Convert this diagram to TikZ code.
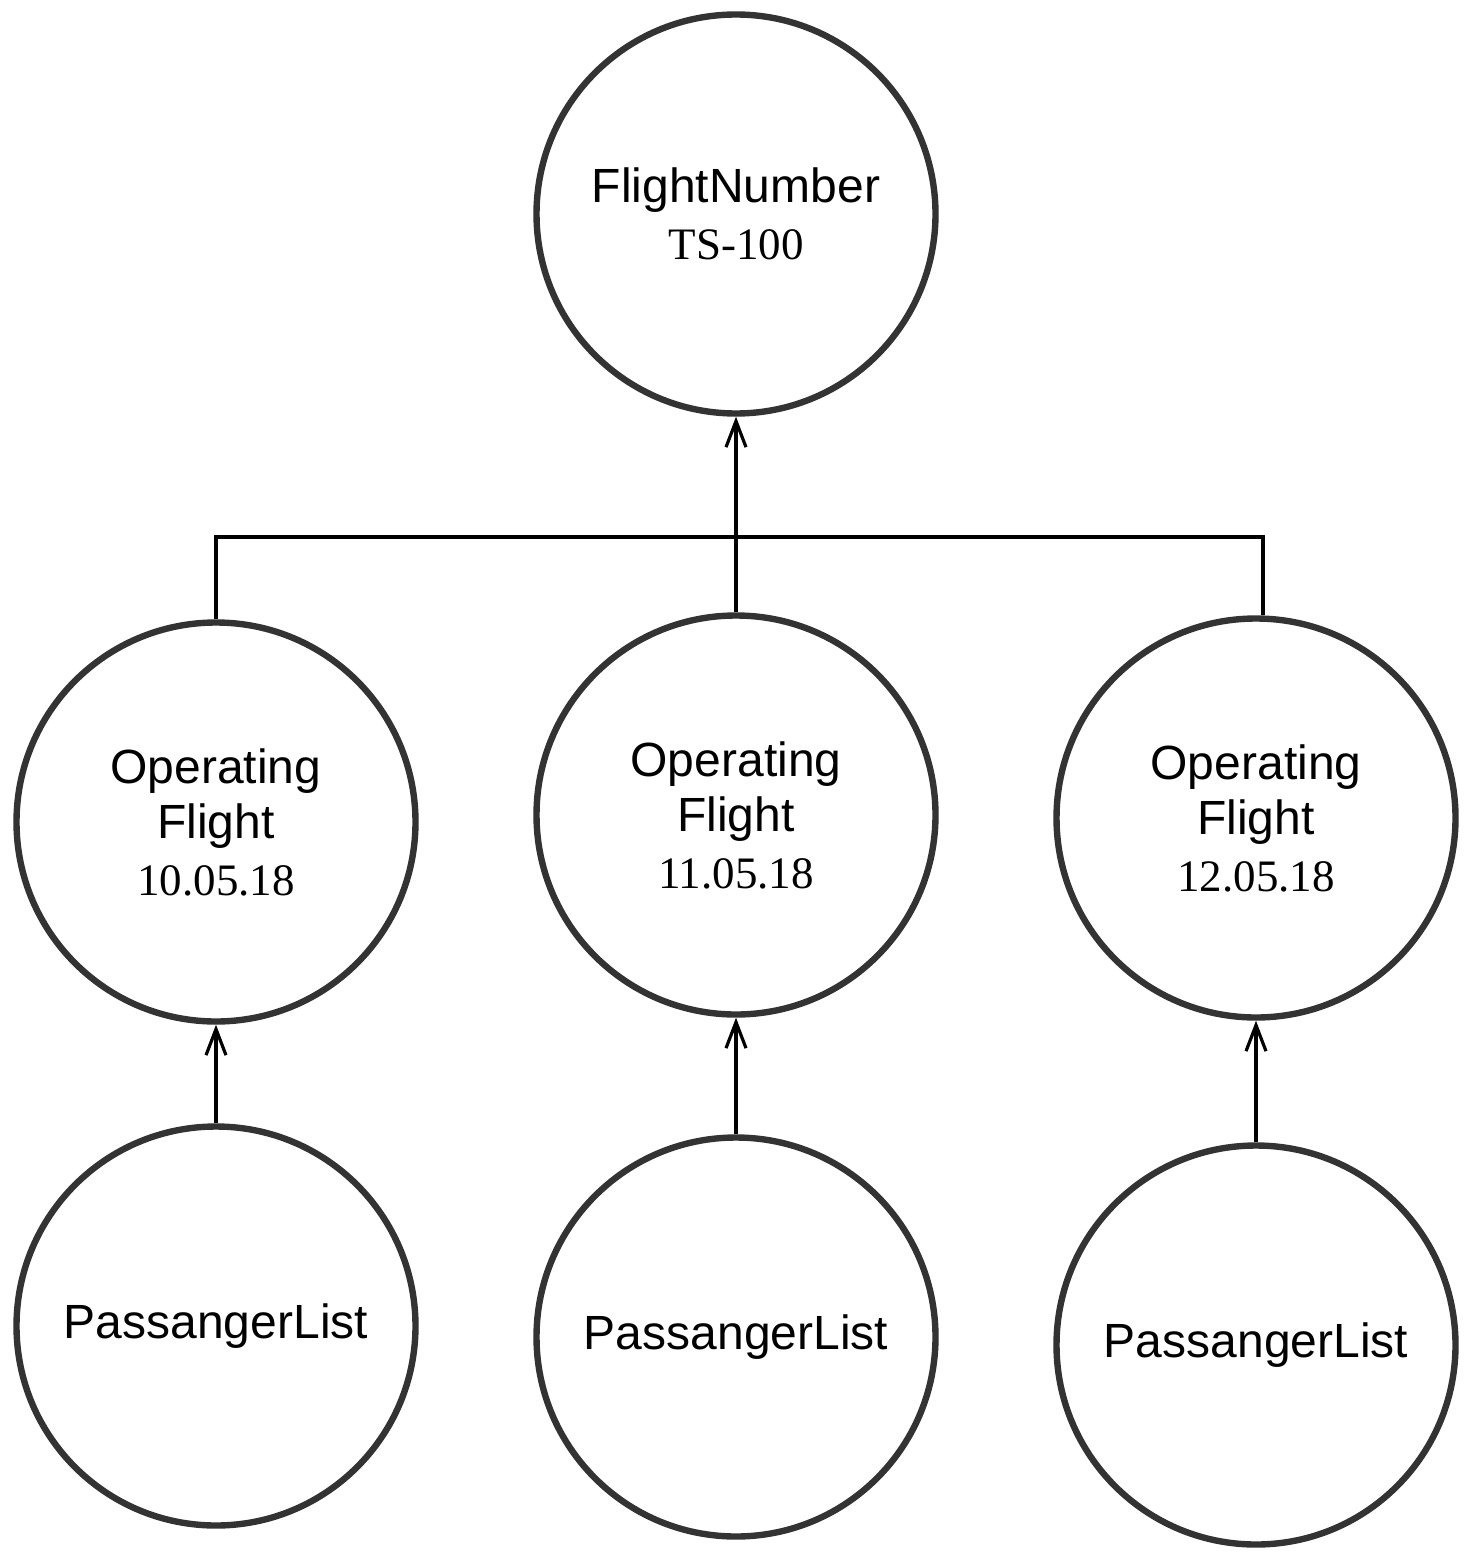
\documentclass[tikz,border=0pt]{standalone}
\usepackage{fontspec}
\setmainfont{Liberation Sans}
\newfontfamily\datefont{Liberation Serif}
\usetikzlibrary{arrows.meta}
\definecolor{ringgray}{HTML}{333333}
\begin{document}
\begin{tikzpicture}[x=0.5pt,y=-0.5pt,
  ent/.style={circle,draw=ringgray,line width=3.2pt,minimum size=199.5pt,inner sep=0pt,align=center,
    font=\fontsize{24}{27.5}\selectfont},
  conn/.style={line width=1.6pt,draw=black},
  arr/.style={conn,-{Straight Barb[length=13pt,width=10pt,line width=1.6pt]}}]
\useasboundingbox (0,0) rectangle (1468,1556);
\newcommand{\dt}[1]{{\datefont\fontsize{22.5}{27.5}\selectfont #1}}
\node[ent] (fn) at (736,214) {FlightNumber\\[1pt]\dt{TS-100}};
\node[ent] (of1) at (216,822) {Operating\\Flight\\[1pt]\dt{10.05.18}};
\node[ent] (of2) at (736,815) {Operating\\Flight\\[1pt]\dt{11.05.18}};
\node[ent] (of3) at (1256,818) {Operating\\Flight\\[1pt]\dt{12.05.18}};
\node[ent] (pl1) at (216,1326) {PassangerList};
\node[ent] (pl2) at (736,1337) {PassangerList};
\node[ent] (pl3) at (1256,1345) {PassangerList};
\coordinate (bus) at (736,537);
\draw[arr] (of2.north) -- (fn.south);
\draw[conn] (of1.north) |- (bus) -| (of3.88);
\draw[arr] (pl1.north) -- (of1.south);
\draw[arr] (pl2.north) -- (of2.south);
\draw[arr] (pl3.north) -- (of3.south);
\end{tikzpicture}
\end{document}
